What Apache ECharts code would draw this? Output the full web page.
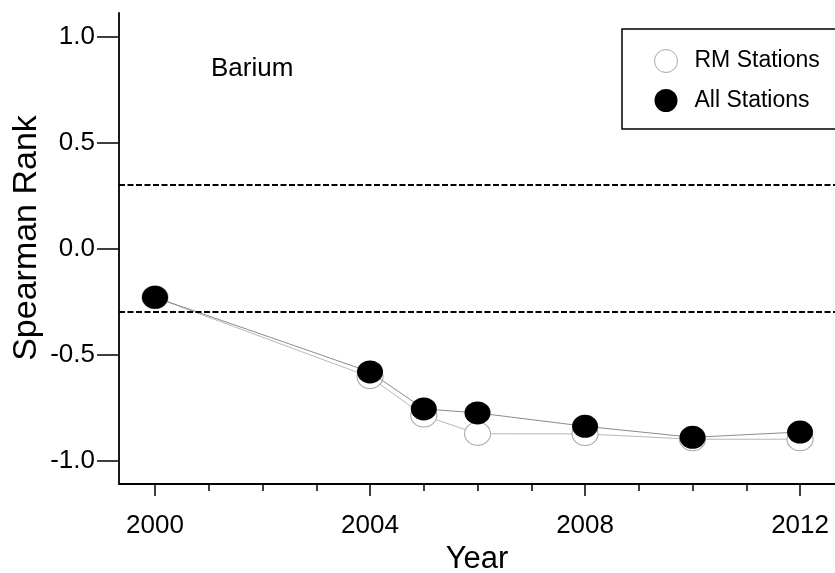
<!DOCTYPE html>
<html>
<head>
<meta charset="utf-8">
<script src="https://cdn.jsdelivr.net/npm/echarts@6/dist/echarts.min.js"></script>
<style>
  html, body { margin: 0; padding: 0; background: #fff; }
  #chart { width: 835px; height: 573px; }
</style>
</head>
<body>
<div id="chart"></div>
<script>
// Spearman rank trend for barium, by survey year
const years = [2000, 2004, 2005, 2006, 2008, 2010, 2012];
const rmStations = [-0.23, -0.606, -0.787, -0.873, -0.874, -0.899, -0.899];
const allStations = [-0.23, -0.582, -0.756, -0.775, -0.838, -0.89, -0.865];
const thresholds = [0.3, -0.3];
const yearLabels = [2000, 2004, 2008, 2012];
const yearTicks = [2000, 2001, 2002, 2003, 2004, 2005, 2006, 2007, 2008, 2009, 2010, 2011, 2012];
const rankTicks = [-1.0, -0.5, 0.0, 0.5, 1.0];

const FONT = "'Liberation Sans', Arial, Helvetica, sans-serif";
const pairs = (xs, ys) => xs.map((x, i) => [x, ys[i]]);

const chart = echarts.init(document.getElementById('chart'), null, { renderer: 'canvas' });

chart.setOption({
  animation: false,
  backgroundColor: '#ffffff',
  textStyle: { fontFamily: FONT, color: '#000' },
  grid: { left: 119, right: 0, top: 13, bottom: 89, containLabel: false, outerBoundsMode: 'none' },
  xAxis: [
    {
      type: 'value',
      min: 1999.33,
      max: 2012.65,
      name: 'Year',
      nameLocation: 'middle',
      nameGap: 57,
      nameTextStyle: { fontFamily: FONT, fontSize: 31, color: '#000' },
      axisLine: { show: true, onZero: false, lineStyle: { color: '#000', width: 1.8 } },
      axisTick: { show: true, length: 12, customValues: yearLabels, lineStyle: { color: '#000', width: 1.5 } },
      axisLabel: { show: true, customValues: yearLabels, margin: 29, fontFamily: FONT, fontSize: 26, color: '#000', formatter: v => String(v) },
      splitLine: { show: false }
    },
    {
      type: 'value',
      min: 1999.33,
      max: 2012.65,
      position: 'bottom',
      axisLine: { show: false, onZero: false },
      axisTick: { show: true, length: 7, customValues: yearTicks, lineStyle: { color: '#000', width: 1.5 } },
      axisLabel: { show: false },
      splitLine: { show: false }
    }
  ],
  yAxis: {
    type: 'value',
    min: -1.11,
    max: 1.11,
    axisLine: { show: true, onZero: false, lineStyle: { color: '#000', width: 1.8 } },
    axisTick: { show: true, length: 22, customValues: rankTicks, lineStyle: { color: '#000', width: 1.5 } },
    axisLabel: {
      show: true,
      customValues: rankTicks,
      margin: 24,
      padding: [10, 0, 0, 0],
      fontFamily: FONT,
      fontSize: 26,
      color: '#000',
      formatter: v => v.toFixed(1)
    },
    splitLine: { show: false }
  },
  legend: {
    orient: 'vertical',
    left: 622,
    top: 29,
    padding: [20, 16, 17, 32],
    itemWidth: 27,
    itemHeight: 23,
    itemGap: 16,
    borderColor: '#000',
    borderWidth: 1.5,
    backgroundColor: '#fff',
    textStyle: { fontFamily: FONT, fontSize: 23, color: '#000', padding: [0, 0, 0, 10] },
    data: [
      { name: 'RM Stations', icon: 'circle', itemStyle: { color: '#fff', borderColor: '#a8a8a8', borderWidth: 1 } },
      { name: 'All Stations', icon: 'circle', itemStyle: { color: '#000', borderWidth: 0 } }
    ]
  },
  graphic: [
    {
      type: 'text',
      x: 211,
      y: 69,
      style: { text: 'Barium', font: `26px ${FONT}`, fill: '#000', textAlign: 'left', textVerticalAlign: 'middle' }
    },
    {
      type: 'text',
      x: 27,
      y: 238,
      rotation: Math.PI / 2,
      style: { text: 'Spearman Rank', font: `34px ${FONT}`, fill: '#000', textAlign: 'center', textVerticalAlign: 'middle' }
    }
  ],
  series: [
    {
      name: 'RM Stations',
      type: 'line',
      data: pairs(years, rmStations),
      symbol: 'circle',
      symbolSize: [26, 23],
      lineStyle: { color: '#b8b8b8', width: 1 },
      itemStyle: { color: '#fff', borderColor: '#a8a8a8', borderWidth: 1 },
      z: 2,
      markLine: {
        silent: true,
        symbol: 'none',
        label: { show: false },
        lineStyle: { color: '#000', type: [6, 2.5], width: 2 },
        data: thresholds.map(t => ({ yAxis: t }))
      }
    },
    {
      name: 'All Stations',
      type: 'line',
      data: pairs(years, allStations),
      symbol: 'circle',
      symbolSize: [26, 23],
      lineStyle: { color: '#8c8c8c', width: 1 },
      itemStyle: { color: '#000', borderWidth: 0 },
      z: 3
    }
  ]
});
</script>
</body>
</html>
